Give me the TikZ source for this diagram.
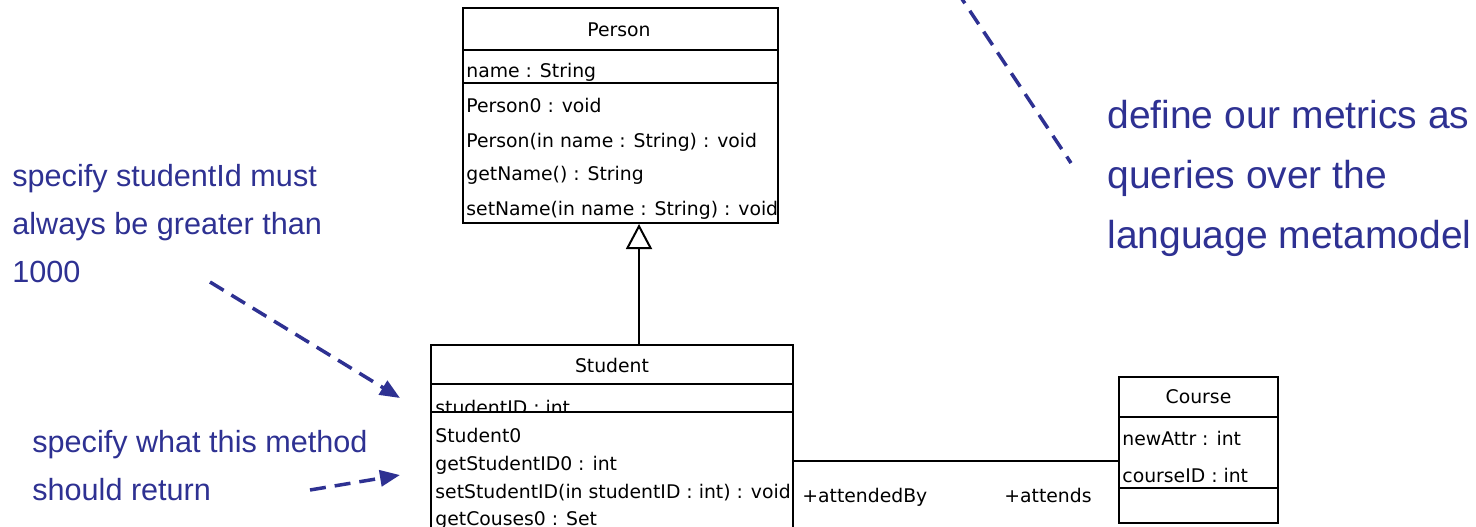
\documentclass[tikz,border=0pt]{standalone}
\usepackage{fontspec}
\setmainfont{Liberation Sans}
\newfontfamily\umlfont{DejaVu Sans}
\usetikzlibrary{arrows.meta}
\definecolor{notecol}{RGB}{46,49,146}
\begin{document}
\begin{tikzpicture}[x=0.5pt,y=-0.5pt,
  classbox/.style={draw=black, line width=1pt, fill=white, inner sep=0pt},
  divider/.style={draw=black, line width=1pt},
  umltext/.style={font=\umlfont\fontsize{9.4}{11}\selectfont, inner sep=0pt, anchor=base west},
  umltitle/.style={font=\umlfont\fontsize{9.4}{11}\selectfont, inner sep=0pt, anchor=base},
  notetext/.style={text=notecol, font=\fontsize{15.3}{24}\selectfont, align=left, inner sep=0pt, anchor=base west},
  bignote/.style={text=notecol, font=\fontsize{19.5}{30}\selectfont, align=left, inner sep=0pt, anchor=base west},
  notearrow/.style={draw=notecol, line width=1.75pt, dash pattern=on 8pt off 4.5pt, -{Triangle[length=10pt,width=8pt]}},
  noteline/.style={draw=notecol, line width=1.75pt, dash pattern=on 8pt off 4.5pt}
]
\useasboundingbox (0,0) rectangle (1476,526);

% ---- Person ----
\node[classbox, minimum width=157.5pt, minimum height=107.5pt] (person) at (620.5,115.5) {};
\draw[divider] (person.west |- 0,50) -- (person.east |- 0,50);
\draw[divider] (person.west |- 0,83) -- (person.east |- 0,83);
\node[umltitle] (ptitle) at (619,36) {Person};
\node[umltext] (pattr) at (466,77) {name : String};
\node[umltext] (pm1) at (466,112) {Person0 : void};
\node[umltext] (pm2) at (466,147) {Person(in name : String) : void};
\node[umltext] (pm3) at (466,180) {getName() : String};
\node[umltext] (pm4) at (466,215) {setName(in name : String) : void};

% ---- Student ----
\node[classbox, minimum width=181pt, minimum height=107.5pt] (student) at (612,452.5) {};
\draw[divider] (student.west |- 0,384) -- (student.east |- 0,384);
\node[umltitle] (stitle) at (612,372) {Student};
\begin{scope}
  \clip (431,384) rectangle (793,411);
  \node[umltext] (sattr) at (435,414) {studentID : int};
\end{scope}
\draw[divider] (student.west |- 0,412) -- (student.east |- 0,412);
\node[umltext] (sm1) at (435,442) {Student0};
\node[umltext] (sm2) at (435,470) {getStudentID0 : int};
\node[umltext] (sm3) at (435,498) {setStudentID(in studentID : int) : void};
\node[umltext] (sm4) at (435,525) {getCouses0 : Set};

% ---- Course ----
\node[classbox, minimum width=79.5pt, minimum height=73pt] (course) at (1198.5,450) {};
\draw[divider] (course.west |- 0,417) -- (course.east |- 0,417);
\draw[divider] (course.west |- 0,488) -- (course.east |- 0,488);
\node[umltitle] (ctitle) at (1198.5,403) {Course};
\node[umltext] (ca1) at (1122,445) {newAttr : int};
\node[umltext] (ca2) at (1122,482) {courseID : int};

% ---- generalization & association ----
\draw[line width=1pt, -{Triangle[open,length=12.5pt,width=13pt]}]
  (student.north -| 639,0) -- (person.south -| 639,0);
\draw[line width=1pt] (student.east |- 0,461) -- (course.west |- 0,461);
\node[umltext] (lab1) at (802,502) {+attendedBy};
\node[umltext] (lab2) at (1004,502) {+attends};

% ---- notes (base anchor = last line's baseline) ----
\node[notetext] (note1) at (12,282) {specify studentId must\\always be greater than\\1000};
\node[notetext] (note2) at (32,500) {specify what this method\\should return};
\node[bignote] (note3) at (1107,248) {define our metrics as\\queries over the\\language metamodel};

\coordinate (a1s) at (210,282);
\coordinate (a1e) at (400,398);
\coordinate (a2s) at (310,490);
\coordinate (a2e) at (400,475);
\coordinate (a3s) at (956,-10);
\coordinate (a3e) at (1071,163);
\draw[notearrow] (a1s) -- (a1e);
\draw[notearrow] (a2s) -- (a2e);
\draw[noteline] (a3s) -- (a3e);
\end{tikzpicture}
\end{document}
